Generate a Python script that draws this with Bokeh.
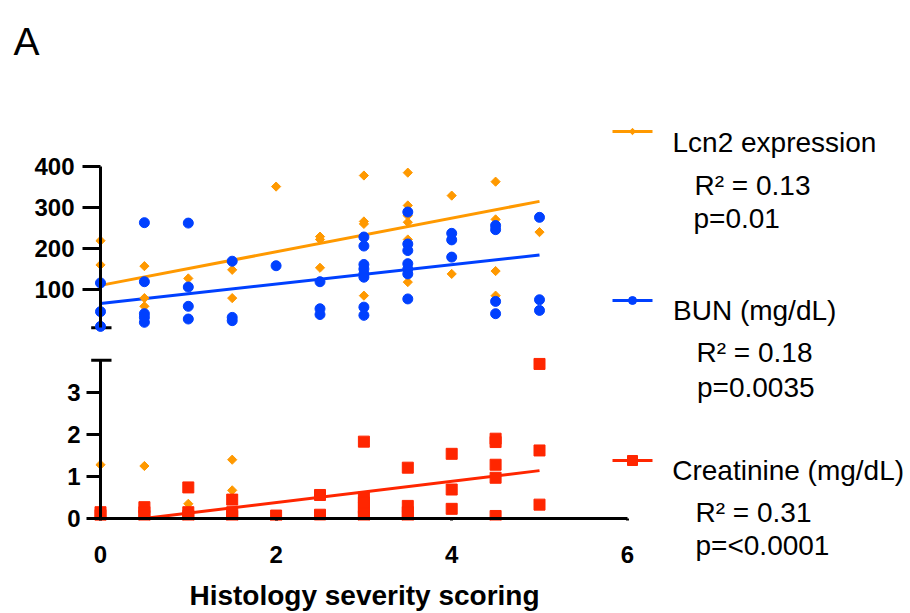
import math
from bokeh.plotting import figure
from bokeh.layouts import column, row
from bokeh.models import Range1d, FixedTicker, LinearAxis, ColumnDataSource
from bokeh.core.properties import value
from bokeh.embed import file_html
from bokeh.resources import INLINE

# ---------------- data ----------------
lcn2_x = [0, 0, 0, 0.5, 0.5, 0.5, 0.5, 1, 1, 1.5, 1.5, 1.5, 1.5, 2, 2.5, 2.5, 2.5,
          3, 3, 3, 3, 3.5, 3.5, 3.5, 3.5, 3.5, 3.5, 4, 4, 4.5, 4.5, 4.5, 4.5, 5]
lcn2_y = [219, 160, 1.28, 157, 79, 59, 1.25, 127, 0.35, 148, 79, 1.40, 0.67, 351, 229, 222, 153,
          378, 266, 260, 85, 385, 305, 280, 264, 222, 118, 329, 138, 363, 271, 145, 85, 240]

bun_x = [0, 0, 0, 0.5, 0.5, 0.5, 0.5, 0.5, 1, 1, 1, 1, 1.5, 1.5, 1.5, 2, 2.5, 2.5, 2.5,
         3, 3, 3, 3, 3, 3, 3, 3, 3.5, 3.5, 3.5, 3.5, 3.5, 3.5, 3.5, 4, 4, 4,
         4.5, 4.5, 4.5, 4.5, 5, 5, 5]
bun_y = [116, 46, 10, 263, 119, 41, 32, 20, 262, 106, 59, 28, 169, 32, 24, 158, 119, 53, 39,
         228, 206, 161, 150, 138, 130, 57, 37, 289, 211, 195, 163, 150, 138, 77, 237, 221, 179,
         256, 246, 71, 41, 276, 75, 49]

creat_x = [0, 0, 0.5, 0.5, 0.5, 1, 1, 1, 1.5, 1.5, 1.5, 2, 2.5, 2.5,
           3, 3, 3, 3, 3, 3, 3.5, 3.5, 3.5, 3.5, 4, 4, 4, 4.5, 4.5, 4.5, 4.5, 4.5, 5, 5, 5]
creat_y = [0.15, 0.08, 0.27, 0.15, 0.06, 0.74, 0.15, 0.06, 0.45, 0.15, 0.06, 0.07, 0.56, 0.09,
           1.83, 0.50, 0.38, 0.25, 0.12, 0.05, 1.21, 0.30, 0.15, 0.05, 1.54, 0.69, 0.23,
           1.90, 1.82, 1.28, 0.97, 0.06, 3.68, 1.62, 0.33]

# linear fits (intercept, slope) as drawn in the reference
lcn2_fit = (110.0, 41.0)
bun_fit = (66.0, 23.6)
creat_fit = (-0.125, 0.253)
fit_x = [0, 5]

series_names = ["Lcn2 expression", "BUN (mg/dL)", "Creatinine (mg/dL)"]
r2_texts = ["R\u00b2 = 0.13", "R\u00b2 = 0.18", "R\u00b2 = 0.31"]
p_texts = ["p=0.01", "p=0.0035", "p=<0.0001"]

upper_ticks = [100, 200, 300, 400]
lower_ticks = [0, 1, 2, 3]
x_ticks = [0, 2, 4, 6]
upper_bounds = (7, 400)
lower_bounds = (0, 3.77)
x_bounds = (0, 6)
x_title = "Histology severity scoring"
panel_letter = "A"

# ---------------- style / layout ----------------
ORANGE = "#FF9900"
BLUE = "#0040FF"
RED = "#FF2600"
FONT = "Liberation Sans"

LEFT_W = 665          # width of the plotting column
LEG_W = 910 - LEFT_W  # width of the legend column
HEAD_H = 64
TOP_H = 276
BOT_H = 613 - HEAD_H - TOP_H
TOP_Y0 = HEAD_H
BOT_Y0 = HEAD_H + TOP_H
FRAME_L = 70
FRAME_R = 658
BOT_FRAME_TOP = BOT_Y0 + 10
BOT_FRAME_BOTTOM = 520


# page-pixel -> data helpers (layout only)
def xd(px):
    return (px - 100.0) / 87.8


def yu(py):  # upper segment
    return 400.0 - (py - 166.0) / 0.41


def yl(py):  # lower segment
    return (518.0 - py) / 42.0


xr = Range1d(xd(FRAME_L), xd(FRAME_R))


def label_axis(ax, ticks, bounds, standoff):
    ax.ticker = FixedTicker(ticks=ticks)
    ax.bounds = bounds
    ax.axis_line_color = None
    ax.major_tick_line_color = None
    ax.minor_tick_line_color = None
    ax.major_tick_out = 0
    ax.major_tick_in = 0
    ax.major_label_text_font = FONT
    ax.major_label_text_font_size = "24px"
    ax.major_label_text_font_style = "bold"
    ax.major_label_text_color = "black"
    ax.major_label_standoff = standoff


def rule_axis(ticks, bounds, tick_len):
    ax = LinearAxis(fixed_location=0)
    ax.ticker = FixedTicker(ticks=ticks)
    ax.bounds = bounds
    ax.axis_line_width = 3
    ax.axis_line_color = "black"
    ax.major_tick_line_width = 3
    ax.major_tick_line_color = "black"
    ax.major_tick_in = tick_len
    ax.major_tick_out = 0
    ax.minor_tick_line_color = None
    ax.major_label_overrides = {t: "" for t in ticks}
    ax.major_label_text_font_size = "1px"
    ax.major_label_standoff = 0
    return ax


common = dict(toolbar_location=None, output_backend="svg", outline_line_color=None,
              background_fill_color="white", border_fill_color="white")

# ---------------- header (panel letter) ----------------
head = figure(width=LEFT_W, height=HEAD_H, x_range=Range1d(0, LEFT_W), y_range=Range1d(HEAD_H, 0),
              x_axis_location=None, y_axis_location=None, min_border=0, frame_align=False, **common)
head.grid.grid_line_color = None
head.text(x=[13], y=[41], text=[panel_letter], text_font=value(FONT), text_font_size=value("39px"),
          text_baseline="alphabetic", text_color="black")

# ---------------- upper segment ----------------
top = figure(width=LEFT_W, height=TOP_H, x_range=xr, y_range=Range1d(yu(TOP_Y0 + TOP_H), yu(TOP_Y0)),
             x_axis_location=None, min_border_left=FRAME_L, min_border_right=LEFT_W - FRAME_R,
             min_border_top=0, min_border_bottom=0, **common)
top.grid.grid_line_color = None
label_axis(top.yaxis[0], upper_ticks, upper_bounds, FRAME_L - 74)
top.add_layout(rule_axis(upper_ticks, upper_bounds, 18), "right")

top.segment(x0=[xd(90.7)], y0=[upper_bounds[0]], x1=[xd(111)], y1=[upper_bounds[0]],
            line_width=3, line_color="black")

top.line(fit_x, [lcn2_fit[0] + lcn2_fit[1] * x for x in fit_x], line_color=ORANGE, line_width=3)
top.line(fit_x, [bun_fit[0] + bun_fit[1] * x for x in fit_x], line_color=BLUE, line_width=3)

up_lx = [x for x, y in zip(lcn2_x, lcn2_y) if y >= upper_bounds[0]]
up_ly = [y for y in lcn2_y if y >= upper_bounds[0]]
top.scatter(up_lx, up_ly, marker="square", angle=math.pi / 4, size=6.5,
            fill_color=ORANGE, line_color=ORANGE)
top.scatter(bun_x, bun_y, marker="circle", size=10, fill_color=BLUE, line_color=BLUE)

# legend keys (upper part)
top.line([xd(612), xd(652)], [yu(131)] * 2, line_color=ORANGE, line_width=3)
top.scatter([xd(632)], [yu(131)], marker="square", angle=math.pi / 4, size=4.5,
            fill_color=ORANGE, line_color=ORANGE)
top.line([xd(612), xd(652)], [yu(300)] * 2, line_color=BLUE, line_width=3)
top.scatter([xd(632)], [yu(300)], marker="circle", size=8, fill_color=BLUE, line_color=BLUE)

# ---------------- lower segment ----------------
bot = figure(width=LEFT_W, height=BOT_H, x_range=xr,
             y_range=Range1d(yl(BOT_FRAME_BOTTOM), yl(BOT_FRAME_TOP)),
             min_border_left=FRAME_L, min_border_right=LEFT_W - FRAME_R,
             min_border_top=BOT_FRAME_TOP - BOT_Y0, min_border_bottom=BOT_Y0 + BOT_H - BOT_FRAME_BOTTOM,
             **common)
bot.grid.grid_line_color = None
label_axis(bot.yaxis[0], lower_ticks, lower_bounds, FRAME_L - 80)
bot.add_layout(rule_axis(lower_ticks, lower_bounds, 14), "right")

xa = bot.xaxis[0]
label_axis(xa, x_ticks, x_bounds, 25)
xa.axis_label = x_title
xa.axis_label_text_font = FONT
xa.axis_label_text_font_size = "28px"
xa.axis_label_text_font_style = "bold"
xa.axis_label_text_color = "black"
xa.axis_label_standoff = 14
bot.add_layout(rule_axis(x_ticks, x_bounds, 14), "above")

bot.segment(x0=[xd(90.7)], y0=[lower_bounds[1]], x1=[xd(111)], y1=[lower_bounds[1]],
            line_width=3, line_color="black")

# creatinine fit drawn from where it meets the x axis (as in the reference)
creat_x0 = max(fit_x[0], -creat_fit[0] / creat_fit[1])
creat_fx = [creat_x0, fit_x[1]]
bot.line(creat_fx, [creat_fit[0] + creat_fit[1] * x for x in creat_fx], line_color=RED, line_width=3)

lo_lx = [x for x, y in zip(lcn2_x, lcn2_y) if y <= lower_bounds[1]]
lo_ly = [y for y in lcn2_y if y <= lower_bounds[1]]
bot.scatter(lo_lx, lo_ly, marker="square", angle=math.pi / 4, size=6.5,
            fill_color=ORANGE, line_color=ORANGE)
bot.scatter(creat_x, creat_y, marker="square", size=11, fill_color=RED, line_color=RED)

# legend key (lower part)
bot.line([xd(612), xd(652)], [yl(460)] * 2, line_color=RED, line_width=3)
bot.scatter([xd(632)], [yl(460)], marker="square", size=10, fill_color=RED, line_color=RED)

# ---------------- legend texts ----------------
leg = figure(width=LEG_W, height=613, x_range=Range1d(LEFT_W, 910), y_range=Range1d(613, 0),
             x_axis_location=None, y_axis_location=None, min_border=0, frame_align=False, **common)
leg.grid.grid_line_color = None
leg_src = ColumnDataSource(dict(
    x=[672, 694, 693, 672.5, 696, 696.5, 671.7, 695, 695],
    y=[141.7, 185, 218, 310, 351.7, 386.7, 470, 511.7, 545],
    text=[series_names[0], r2_texts[0], p_texts[0],
          series_names[1], r2_texts[1], p_texts[1],
          series_names[2], r2_texts[2], p_texts[2]],
))
leg.text(x="x", y="y", text="text", source=leg_src, text_font=value(FONT),
         text_font_size=value("28px"), text_baseline="alphabetic", text_color="black")

layout = row(column(head, top, bot, spacing=0), leg, spacing=0)
open("out.html", "w").write(file_html(layout, INLINE))
